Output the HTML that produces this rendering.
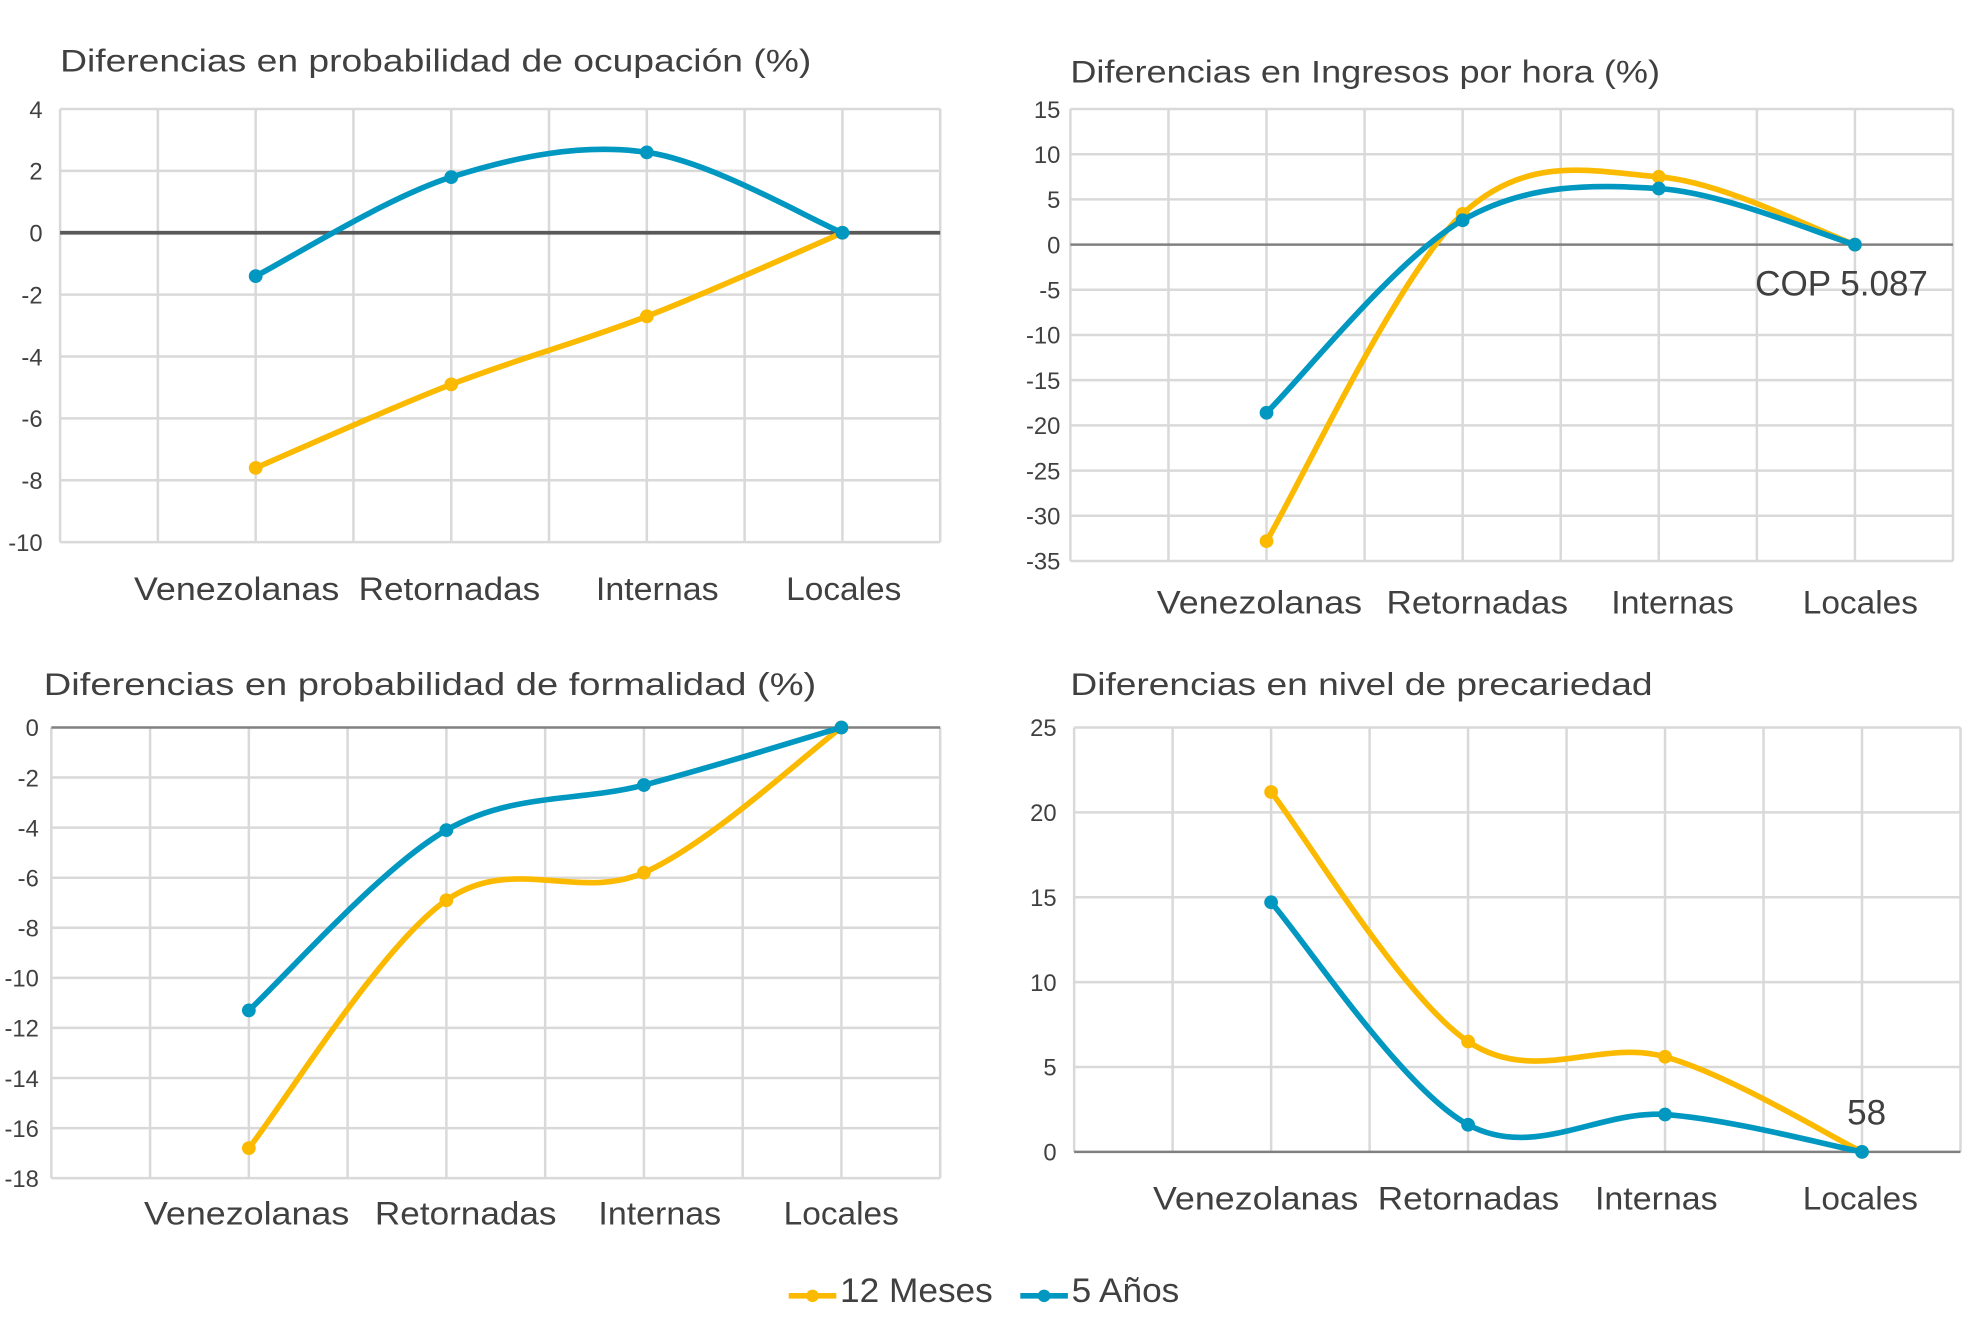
<!DOCTYPE html>
<html><head><meta charset="utf-8"><style>
html,body{margin:0;padding:0;background:#fff}
svg{display:block}
text{font-family:"Liberation Sans",sans-serif;fill:#404040}
</style></head><body>
<svg id="root" width="1963" height="1336" viewBox="0 0 1568 1067" xmlns="http://www.w3.org/2000/svg">
<g>
<g>
<line x1="630" y1="1035" x2="668" y2="1035" stroke="#FBBA00" stroke-width="4.5"/><circle cx="649" cy="1035" r="5" fill="#FBBA00"/>
<text x="671" y="1040" font-size="27" textLength="122" lengthAdjust="spacingAndGlyphs">12 Meses</text></g>
<g>
<line x1="815" y1="1035" x2="853" y2="1035" stroke="#0097C1" stroke-width="4.5"/><circle cx="834" cy="1035" r="5" fill="#0097C1"/>
<text x="856" y="1040" font-size="27" textLength="86" lengthAdjust="spacingAndGlyphs">5 Años</text></g>
</g>
</svg>
<script>
const categories=["Venezolanas","Retornadas","Internas","Locales"];
const catWidths=[164,145,98,92];
const ocup12=[-7.6,-4.9,-2.7,0];
const ocup5=[-1.4,1.8,2.6,0];
const ocupTicks=[4,2,0,-2,-4,-6,-8,-10];
const ingr12=[-32.8,3.4,7.5,0];
const ingr5=[-18.6,2.7,6.2,0];
const ingrTicks=[15,10,5,0,-5,-10,-15,-20,-25,-30,-35];
const form12=[-16.8,-6.9,-5.8,0];
const form5=[-11.3,-4.1,-2.3,0];
const formTicks=[0,-2,-4,-6,-8,-10,-12,-14,-16,-18];
const prec12=[21.2,6.5,5.6,0];
const prec5=[14.7,1.6,2.2,0];
const precTicks=[25,20,15,10,5,0];
const NS="http://www.w3.org/2000/svg";
const root=document.getElementById('root');
function mk(tag,attrs,parent){const e=document.createElementNS(NS,tag);for(const k in attrs)e.setAttribute(k,attrs[k]);parent.appendChild(e);return e;}
function chart(o){
  const g=mk('g',{},root);
  
  
  const ymax=o.ticks[0],ymin=o.ticks[o.ticks.length-1];
  const y=v=>o.y0+(ymax-v)/(ymax-ymin)*(o.y1-o.y0);
  const step=(o.x1-o.x0)/9;
  const x=i=>o.x0+step*(2+2*i);
  const t=mk('text',{x:o.tx,y:o.ty,'font-size':25,textLength:o.tw,lengthAdjust:'spacingAndGlyphs'},g);t.textContent=o.title;
  
  
  for(let i=0;i<=9;i++){const l=mk('line',{x1:o.x0+step*i,x2:o.x0+step*i,y1:o.y0,y2:o.y1,stroke:'#d9d9d9','stroke-width':2},g);
    
    }
  o.ticks.forEach(v=>{const yy=y(v);const isZero=v===0;
    const l=mk('line',{x1:o.x0,x2:o.x1,y1:yy,y2:yy,stroke:isZero?o.zeroColor:'#d9d9d9','stroke-width':isZero?o.zeroW:2},g);
    
    
    const tl=mk('text',{x:o.lx,y:yy+7,'font-size':19,'text-anchor':'end'},g);tl.textContent=v;
    
    });
  categories.forEach((c,i)=>{const tl=mk('text',{x:o.cx[i],y:o.cy,'font-size':26,'text-anchor':'middle',textLength:catWidths[i],lengthAdjust:'spacingAndGlyphs'},g);tl.textContent=c;
    
    });
  [[o.s12,'#FBBA00','series-12-meses'],[o.s5,'#0097C1','series-5-anos']].forEach(([s,col,nm])=>{
    const p=s.map((v,i)=>[x(i),y(v)]);
    let d='M'+p[0][0]+','+p[0][1];
    for(let i=0;i<p.length-1;i++){const p0=p[Math.max(0,i-1)],p1=p[i],p2=p[i+1],p3=p[Math.min(p.length-1,i+2)];
      const c1=[p1[0]+(p2[0]-p0[0])/6,p1[1]+(p2[1]-p0[1])/6],c2=[p2[0]-(p3[0]-p1[0])/6,p2[1]-(p3[1]-p1[1])/6];
      d+=' C'+c1+' '+c2+' '+p2;}
    const path=mk('path',{d:d,fill:'none',stroke:col,'stroke-width':4.5},g);
    
    
    p.forEach(q=>{const c=mk('circle',{cx:q[0],cy:q[1],r:5.5,fill:col},g);
      
      });
  });
  if(o.note){const n=mk('text',{x:o.note[1],y:o.note[2],'font-size':28,'text-anchor':o.note[3]},g);n.textContent=o.note[0];
    
    }
}
chart({name:'chart-ocupacion',title:'Diferencias en probabilidad de ocupación (%)',tw:600,tx:48,ty:57,x0:48,x1:751,y0:87,y1:433,ticks:ocupTicks,s12:ocup12,s5:ocup5,lx:34,cx:[189,359,525,674],cy:479,zeroColor:'#595959',zeroW:3});
chart({name:'chart-ingresos',title:'Diferencias en Ingresos por hora (%)',tw:471,tx:855,ty:66,x0:855,x1:1560,y0:87,y1:448,ticks:ingrTicks,s12:ingr12,s5:ingr5,lx:847,cx:[1006,1180,1336,1486],cy:490,zeroColor:'#808080',zeroW:2,note:['COP 5.087',1540,236,'end']});
chart({name:'chart-formalidad',title:'Diferencias en probabilidad de formalidad (%)',tw:617,tx:35,ty:555,x0:41,x1:751,y0:581,y1:941,ticks:formTicks,s12:form12,s5:form5,lx:31,cx:[197,372,527,672],cy:978,zeroColor:'#808080',zeroW:2});
chart({name:'chart-precariedad',title:'Diferencias en nivel de precariedad',tw:465,tx:855,ty:555,x0:858,x1:1566,y0:581,y1:920,ticks:precTicks,s12:prec12,s5:prec5,lx:844,cx:[1003,1173,1323,1486],cy:966,zeroColor:'#808080',zeroW:2,note:['58',1491,898,'middle']});
</script>
</body></html>
